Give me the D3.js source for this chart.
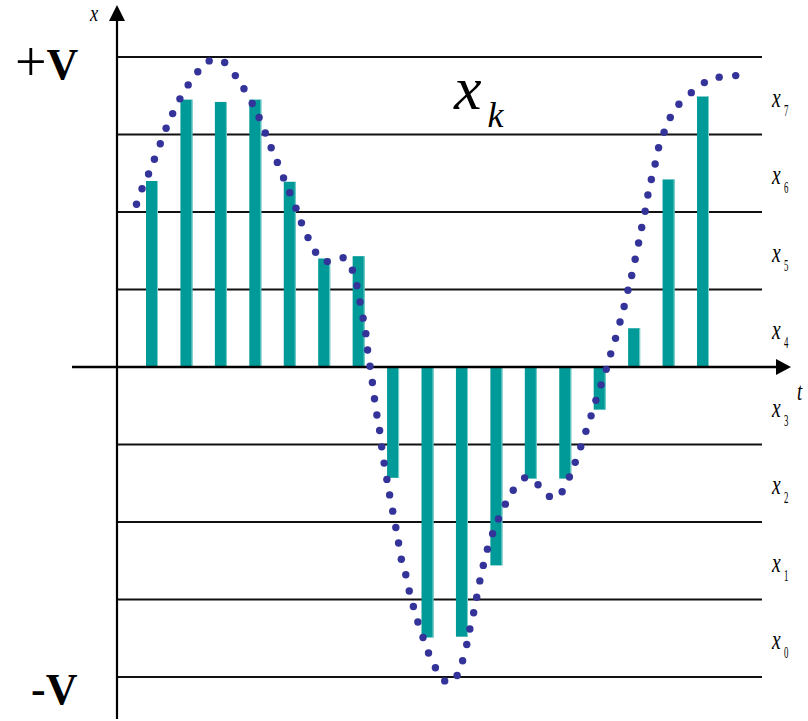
<!DOCTYPE html>
<html>
<head>
<meta charset="utf-8">
<script src="https://cdn.jsdelivr.net/npm/d3@7"></script>
<style>
  html, body { margin: 0; padding: 0; background: #fff; }
  svg { display: block; }
  text { font-family: "Liberation Serif", "DejaVu Serif", serif; }
</style>
</head>
<body>
<svg id="chart" width="808" height="721"></svg>
<script>
// Sample index k and the quantised sample values (in quantisation steps, range -4..4)
const sampleIndex = [0, 1, 2, 3, 4, 5, 6, 7, 8, 9, 10, 11, 12, 13, 14, 15, 16];
const sampleValues = [2.40, 3.45, 3.42, 3.45, 2.39, 1.40, 1.43, -1.43, -3.49, -3.48,
                      -2.56, -1.44, -1.44, -0.55, 0.50, 2.42, 3.49];

// Continuous signal x(t), drawn as a dotted trace (t in sample periods)
const signalT = [-0.45, -0.29, -0.10, 0.07, 0.24, 0.41, 0.60, 0.81, 1.05, 1.33,
  1.66, 2.11, 2.42, 2.67, 2.91, 3.11, 3.29, 3.46, 3.64, 3.82,
  4.00, 4.18, 4.34, 4.53, 4.75, 5.09, 5.55, 5.82, 5.95, 6.04,
  6.13, 6.21, 6.26, 6.33, 6.40, 6.46, 6.53, 6.61, 6.67, 6.74,
  6.82, 6.90, 6.99, 7.08, 7.16, 7.24, 7.37, 7.47, 7.59, 7.72,
  7.87, 8.03, 8.23, 8.50, 8.86, 9.02, 9.14, 9.23, 9.34, 9.43,
  9.52, 9.62, 9.74, 9.89, 10.06, 10.26, 10.49, 10.82, 11.21, 11.54,
  11.91, 12.12, 12.29, 12.45, 12.60, 12.75, 12.89, 13.04, 13.19, 13.32,
  13.46, 13.59, 13.71, 13.82, 13.93, 14.03, 14.13, 14.22, 14.32, 14.40,
  14.50, 14.61, 14.71, 14.87, 15.05, 15.30, 15.66, 16.04, 16.47, 16.95];
const signalX = [2.10, 2.30, 2.49, 2.68, 2.88, 3.08, 3.27, 3.46, 3.64, 3.81,
  3.95, 3.93, 3.76, 3.59, 3.40, 3.22, 3.02, 2.83, 2.64, 2.44,
  2.25, 2.05, 1.86, 1.67, 1.48, 1.36, 1.41, 1.25, 1.05, 0.84,
  0.63, 0.43, 0.22, 0.01, -0.20, -0.41, -0.62, -0.82, -1.03, -1.24,
  -1.45, -1.65, -1.86, -2.07, -2.27, -2.48, -2.68, -2.89, -3.09, -3.29,
  -3.49, -3.69, -3.88, -4.05, -3.98, -3.79, -3.58, -3.38, -3.17, -2.97,
  -2.76, -2.56, -2.35, -2.15, -1.96, -1.77, -1.59, -1.43, -1.52, -1.67,
  -1.61, -1.42, -1.23, -1.03, -0.83, -0.63, -0.43, -0.23, -0.03, 0.17,
  0.37, 0.58, 0.78, 0.99, 1.18, 1.39, 1.60, 1.80, 2.01, 2.22,
  2.42, 2.62, 2.83, 3.03, 3.22, 3.39, 3.54, 3.67, 3.74, 3.76];

// Decision levels (horizontal rules) and the level names shown in each band
const gridLevels = [-4, -3, -2, -1, 1, 2, 3, 4];
const levelNames = ["0", "1", "2", "3", "4", "5", "6", "7"];

const svg = d3.select("#chart");

const x = d3.scaleLinear().domain([0, 16]).range([152, 703]);
const y = d3.scaleLinear().domain([-4, 4]).range([677, 57]);

const axisX = 117;          // position of the vertical axis
const gridRight = 762;      // right end of the level rules
const teal = "#009a98";
const dotColor = "#333399";

// level rules
svg.append("g").selectAll("line")
  .data(gridLevels)
  .join("line")
  .attr("x1", axisX).attr("x2", gridRight)
  .attr("y1", d => y(d)).attr("y2", d => y(d))
  .attr("stroke", "#111").attr("stroke-width", 2);

// sample bars
const barW = 12;
svg.append("g").selectAll("rect")
  .data(sampleIndex)
  .join("rect")
  .attr("x", i => x(i) - barW / 2)
  .attr("width", barW)
  .attr("y", i => Math.min(y(sampleValues[i]), y(0)))
  .attr("height", i => Math.abs(y(sampleValues[i]) - y(0)))
  .attr("fill", teal);

// light right edge on each bar
svg.append("g").selectAll("line")
  .data(sampleIndex)
  .join("line")
  .attr("x1", i => x(i) + barW / 2 - 0.5).attr("x2", i => x(i) + barW / 2 - 0.5)
  .attr("y1", i => y(sampleValues[i])).attr("y2", y(0))
  .attr("stroke", "#7fd0cc").attr("stroke-width", 1);

// horizontal t axis with arrow
svg.append("line")
  .attr("x1", 72).attr("x2", 777)
  .attr("y1", y(0)).attr("y2", y(0))
  .attr("stroke", "#000").attr("stroke-width", 2.5);
svg.append("path")
  .attr("d", `M791,${y(0)} L776,${y(0) - 8} L776,${y(0) + 8} Z`)
  .attr("fill", "#000");

// vertical x axis with arrow
svg.append("line")
  .attr("x1", axisX).attr("x2", axisX)
  .attr("y1", 719).attr("y2", 20)
  .attr("stroke", "#000").attr("stroke-width", 2.2);
svg.append("path")
  .attr("d", `M${axisX},5 L${axisX - 8},21 L${axisX + 8},21 Z`)
  .attr("fill", "#000");

// dotted continuous signal
svg.append("g").selectAll("circle")
  .data(signalT)
  .join("circle")
  .attr("cx", (t, i) => x(t))
  .attr("cy", (t, i) => y(signalX[i]))
  .attr("r", 3.7)
  .attr("fill", dotColor);

// +V / -V labels
const plusV = svg.append("text").attr("x", 15).attr("y", 79).attr("font-size", 44);
plusV.append("tspan").attr("font-size", 56).attr("dy", 2).text("+");
plusV.append("tspan").attr("font-weight", "bold").attr("dy", -2).text("V");

svg.append("text").attr("x", 31).attr("y", 704)
  .attr("font-size", 44).attr("font-weight", "bold").text("-V");

// axis names (condensed italic)
svg.append("text")
  .attr("transform", "translate(90,21) scale(0.8,1)")
  .attr("font-size", 23).attr("font-style", "italic").text("x");
svg.append("text")
  .attr("transform", "translate(797,400) scale(0.72,1)")
  .attr("font-size", 26).attr("font-style", "italic").text("t");

// x_k title
const xk = svg.append("text").attr("x", 454).attr("y", 109).attr("font-style", "italic");
xk.append("tspan").attr("font-size", 62).text("x");
xk.append("tspan").attr("font-size", 36).attr("dx", 6).attr("dy", 18).text("k");

// level names in each band
const bands = svg.append("g").selectAll("g")
  .data(levelNames)
  .join("g")
  .attr("transform", (d, i) => `translate(772,${y(i - 4 + 0.5) + 11})`);
bands.append("text")
  .attr("transform", "scale(0.7,1)")
  .attr("font-size", 28).attr("font-style", "italic").text("x");
bands.append("text")
  .attr("transform", "translate(12,9) scale(0.55,1)")
  .attr("font-size", 16).text(d => d);
</script>
</body>
</html>
